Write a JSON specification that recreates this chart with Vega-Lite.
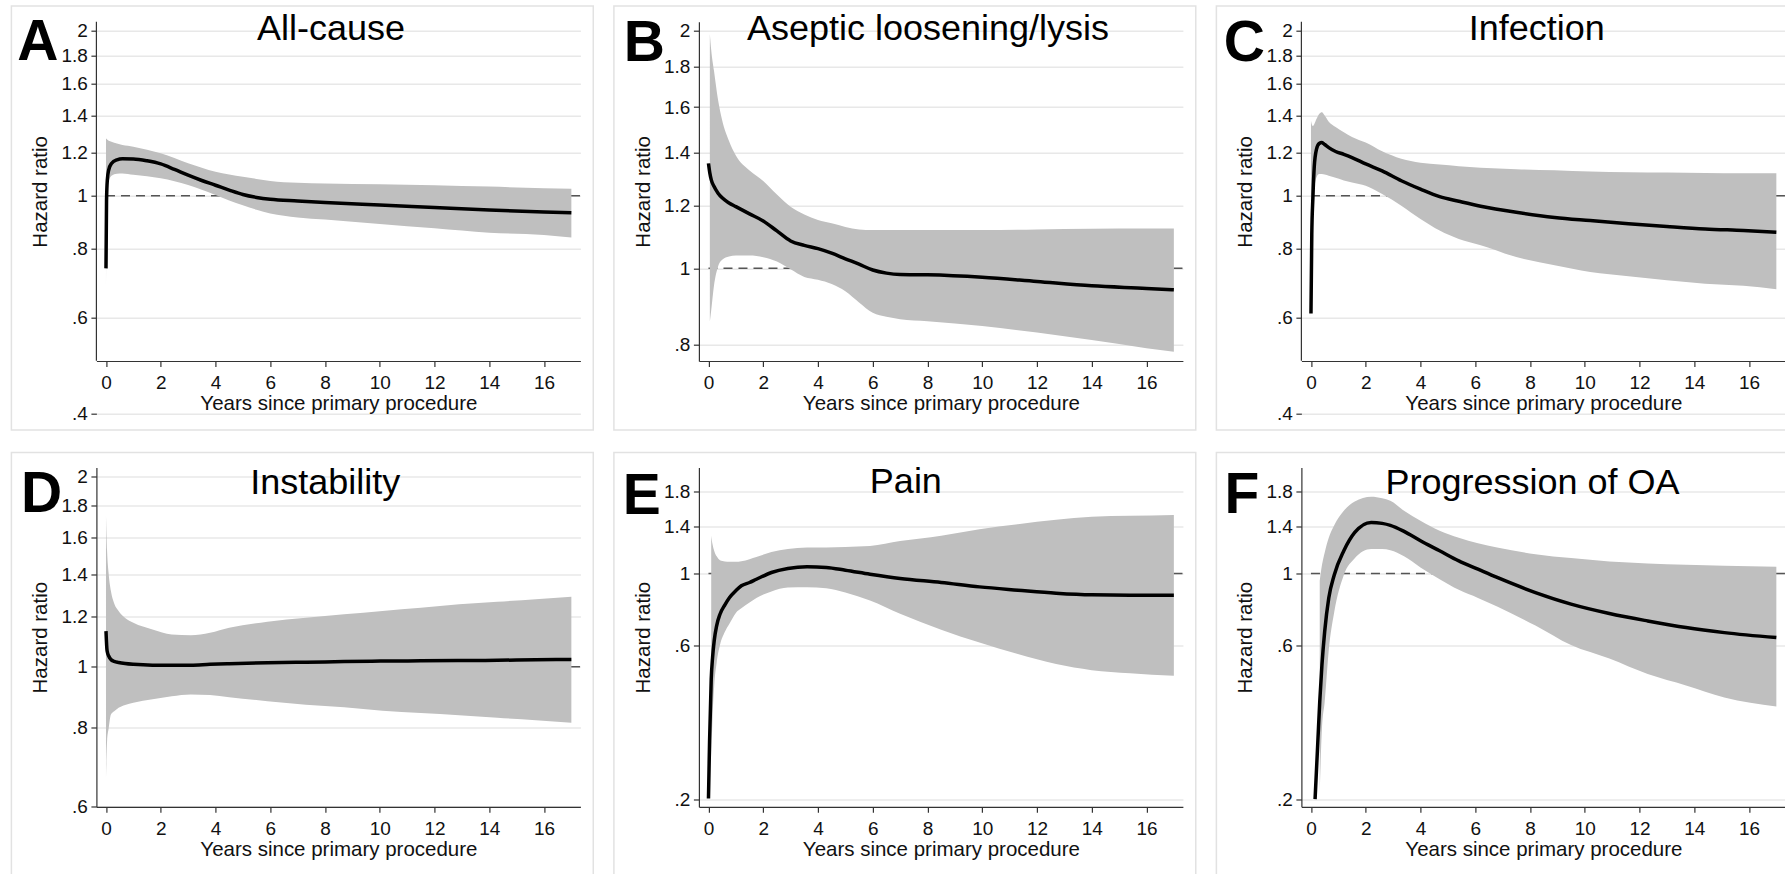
{
  "$schema": "https://vega.github.io/schema/vega-lite/v6.json",
  "padding": {"left": 10.4, "top": 4.7, "right": 0, "bottom": 0},
  "autosize": {"type": "pad"},
  "background": "white",
  "config": {
    "font": "Liberation Sans",
    "view": {"stroke": null},
    "axis": {
      "domainColor": "#333333", "domainWidth": 1.2,
      "tickColor": "#333333", "tickWidth": 1.2, "tickSize": 5.5,
      "labelColor": "#111111", "labelFontSize": 19, "labelFont": "Liberation Sans",
      "titleFont": "Liberation Sans", "titleFontSize": 20.5, "titleFontWeight": "normal", "titleColor": "#111111",
      "labelOverlap": false, "labelFlush": false, "labelBound": false
    },
    "axisX": {"grid": false, "labelPadding": 7, "titlePadding": 1},
    "axisY": {"grid": true, "gridColor": "#e8e8e8", "gridWidth": 1.5, "labelPadding": 3.5, "titlePadding": 10},
    "text": {"font": "Liberation Sans", "color": "#000000"}
  },
  "datasets": {
    "A": [
      {"t": 0, "hr": 0.737, "lo": 0.668, "hi": 1.272},
      {"t": 0.02, "hr": 0.98, "lo": 0.93, "hi": 1.27},
      {"t": 0.05, "hr": 1.07, "lo": 1.02, "hi": 1.265},
      {"t": 0.1, "hr": 1.115, "lo": 1.06, "hi": 1.26},
      {"t": 0.2, "hr": 1.145, "lo": 1.088, "hi": 1.255},
      {"t": 0.4, "hr": 1.163, "lo": 1.097, "hi": 1.245},
      {"t": 0.6, "hr": 1.168, "lo": 1.098, "hi": 1.237},
      {"t": 1.0, "hr": 1.167, "lo": 1.092, "hi": 1.229},
      {"t": 1.5, "hr": 1.158, "lo": 1.085, "hi": 1.213},
      {"t": 2.0, "hr": 1.143, "lo": 1.076, "hi": 1.195},
      {"t": 2.5, "hr": 1.117, "lo": 1.063, "hi": 1.172},
      {"t": 3.0, "hr": 1.09, "lo": 1.046, "hi": 1.146},
      {"t": 3.5, "hr": 1.066, "lo": 1.025, "hi": 1.125},
      {"t": 4.0, "hr": 1.045, "lo": 1.003, "hi": 1.106},
      {"t": 4.5, "hr": 1.024, "lo": 0.98, "hi": 1.093},
      {"t": 5.0, "hr": 1.005, "lo": 0.961, "hi": 1.083},
      {"t": 5.5, "hr": 0.993, "lo": 0.943, "hi": 1.073},
      {"t": 6.0, "hr": 0.985, "lo": 0.928, "hi": 1.064},
      {"t": 7.0, "hr": 0.978, "lo": 0.913, "hi": 1.056},
      {"t": 8.0, "hr": 0.972, "lo": 0.905, "hi": 1.053},
      {"t": 10.0, "hr": 0.962, "lo": 0.888, "hi": 1.049},
      {"t": 12.0, "hr": 0.952, "lo": 0.872, "hi": 1.045},
      {"t": 14.0, "hr": 0.942, "lo": 0.856, "hi": 1.039},
      {"t": 16.0, "hr": 0.934, "lo": 0.848, "hi": 1.032},
      {"t": 17.0, "hr": 0.931, "lo": 0.839, "hi": 1.03}
    ],
    "B": [
      {"t": 0, "hr": 1.358, "lo": null, "hi": null},
      {"t": 0.05, "hr": 1.32, "lo": 0.856, "hi": 1.98},
      {"t": 0.1, "hr": 1.295, "lo": 0.885, "hi": 1.89},
      {"t": 0.2, "hr": 1.27, "lo": 0.95, "hi": 1.78},
      {"t": 0.35, "hr": 1.245, "lo": 1.005, "hi": 1.634},
      {"t": 0.5, "hr": 1.228, "lo": 1.025, "hi": 1.54},
      {"t": 0.75, "hr": 1.21, "lo": 1.035, "hi": 1.45},
      {"t": 1.0, "hr": 1.197, "lo": 1.038, "hi": 1.39},
      {"t": 1.5, "hr": 1.172, "lo": 1.038, "hi": 1.33},
      {"t": 2.0, "hr": 1.148, "lo": 1.033, "hi": 1.29},
      {"t": 2.5, "hr": 1.115, "lo": 1.02, "hi": 1.24},
      {"t": 3.0, "hr": 1.083, "lo": 0.997, "hi": 1.197},
      {"t": 3.5, "hr": 1.069, "lo": 0.975, "hi": 1.17},
      {"t": 4.0, "hr": 1.059, "lo": 0.967, "hi": 1.151},
      {"t": 4.5, "hr": 1.045, "lo": 0.955, "hi": 1.14},
      {"t": 5.0, "hr": 1.028, "lo": 0.935, "hi": 1.128},
      {"t": 5.5, "hr": 1.012, "lo": 0.905, "hi": 1.12},
      {"t": 6.0, "hr": 0.995, "lo": 0.878, "hi": 1.118},
      {"t": 6.5, "hr": 0.986, "lo": 0.868, "hi": 1.118},
      {"t": 7.0, "hr": 0.982, "lo": 0.862, "hi": 1.118},
      {"t": 8.0, "hr": 0.981, "lo": 0.857, "hi": 1.118},
      {"t": 10.0, "hr": 0.974, "lo": 0.845, "hi": 1.118},
      {"t": 12.0, "hr": 0.962, "lo": 0.829, "hi": 1.12},
      {"t": 14.0, "hr": 0.95, "lo": 0.811, "hi": 1.122},
      {"t": 16.0, "hr": 0.943, "lo": 0.792, "hi": 1.123},
      {"t": 17.0, "hr": 0.939, "lo": 0.784, "hi": 1.123}
    ],
    "C": [
      {"t": 0, "hr": 0.61, "lo": 0.593, "hi": 1.37},
      {"t": 0.03, "hr": 0.85, "lo": 0.75, "hi": 1.35},
      {"t": 0.07, "hr": 0.99, "lo": 0.9, "hi": 1.34},
      {"t": 0.12, "hr": 1.13, "lo": 1.02, "hi": 1.35},
      {"t": 0.2, "hr": 1.215, "lo": 1.08, "hi": 1.38},
      {"t": 0.3, "hr": 1.245, "lo": 1.095, "hi": 1.41},
      {"t": 0.4, "hr": 1.25, "lo": 1.095, "hi": 1.42},
      {"t": 0.5, "hr": 1.24, "lo": 1.093, "hi": 1.4},
      {"t": 0.65, "hr": 1.224, "lo": 1.087, "hi": 1.365},
      {"t": 0.9, "hr": 1.204, "lo": 1.078, "hi": 1.335},
      {"t": 1.2, "hr": 1.19, "lo": 1.066, "hi": 1.305},
      {"t": 1.5, "hr": 1.174, "lo": 1.057, "hi": 1.28},
      {"t": 2.0, "hr": 1.143, "lo": 1.043, "hi": 1.25},
      {"t": 2.6, "hr": 1.11, "lo": 1.007, "hi": 1.205},
      {"t": 3.3, "hr": 1.065, "lo": 0.959, "hi": 1.168},
      {"t": 4.0, "hr": 1.028, "lo": 0.907, "hi": 1.149},
      {"t": 4.7, "hr": 0.996, "lo": 0.864, "hi": 1.14},
      {"t": 5.4, "hr": 0.977, "lo": 0.834, "hi": 1.132},
      {"t": 6.2, "hr": 0.957, "lo": 0.812, "hi": 1.125},
      {"t": 7.5, "hr": 0.933, "lo": 0.773, "hi": 1.118},
      {"t": 8.9, "hr": 0.913, "lo": 0.747, "hi": 1.113},
      {"t": 10.2, "hr": 0.901, "lo": 0.726, "hi": 1.107},
      {"t": 11.6, "hr": 0.889, "lo": 0.713, "hi": 1.104},
      {"t": 13.0, "hr": 0.879, "lo": 0.701, "hi": 1.102},
      {"t": 14.4, "hr": 0.87, "lo": 0.691, "hi": 1.1},
      {"t": 15.8, "hr": 0.864, "lo": 0.685, "hi": 1.099},
      {"t": 17.0, "hr": 0.858, "lo": 0.675, "hi": 1.099}
    ],
    "D": [
      {"t": 0, "hr": 1.139, "lo": 0.667, "hi": 1.734},
      {"t": 0.04, "hr": 1.06, "lo": 0.762, "hi": 1.526},
      {"t": 0.1, "hr": 1.04, "lo": 0.8, "hi": 1.4},
      {"t": 0.18, "hr": 1.027, "lo": 0.84, "hi": 1.318},
      {"t": 0.3, "hr": 1.02, "lo": 0.85, "hi": 1.26},
      {"t": 0.46, "hr": 1.016, "lo": 0.861, "hi": 1.226},
      {"t": 0.7, "hr": 1.012, "lo": 0.87, "hi": 1.195},
      {"t": 1.0, "hr": 1.009, "lo": 0.877, "hi": 1.174},
      {"t": 1.7, "hr": 1.006, "lo": 0.888, "hi": 1.146},
      {"t": 2.4, "hr": 1.006, "lo": 0.898, "hi": 1.125},
      {"t": 3.1, "hr": 1.006, "lo": 0.904, "hi": 1.122},
      {"t": 3.8, "hr": 1.009, "lo": 0.902, "hi": 1.132},
      {"t": 4.5, "hr": 1.011, "lo": 0.895, "hi": 1.153},
      {"t": 5.9, "hr": 1.015, "lo": 0.882, "hi": 1.179},
      {"t": 7.3, "hr": 1.017, "lo": 0.871, "hi": 1.196},
      {"t": 8.7, "hr": 1.019, "lo": 0.863, "hi": 1.211},
      {"t": 10.1, "hr": 1.021, "lo": 0.852, "hi": 1.226},
      {"t": 11.5, "hr": 1.022, "lo": 0.845, "hi": 1.24},
      {"t": 12.9, "hr": 1.023, "lo": 0.838, "hi": 1.256},
      {"t": 14.3, "hr": 1.024, "lo": 0.83, "hi": 1.268},
      {"t": 15.7, "hr": 1.026, "lo": 0.823, "hi": 1.279},
      {"t": 17.0, "hr": 1.027, "lo": 0.815, "hi": 1.291}
    ],
    "E": [
      {"t": 0, "hr": 0.201, "lo": null, "hi": null},
      {"t": 0.04, "hr": 0.303, "lo": null, "hi": null},
      {"t": 0.1, "hr": 0.47, "lo": 0.27, "hi": 1.31},
      {"t": 0.15, "hr": 0.55, "lo": 0.36, "hi": 1.23},
      {"t": 0.21, "hr": 0.62, "lo": 0.45, "hi": 1.175},
      {"t": 0.3, "hr": 0.69, "lo": 0.53, "hi": 1.13},
      {"t": 0.42, "hr": 0.748, "lo": 0.6, "hi": 1.1},
      {"t": 0.6, "hr": 0.8, "lo": 0.66, "hi": 1.09},
      {"t": 0.77, "hr": 0.843, "lo": 0.7, "hi": 1.087},
      {"t": 1.0, "hr": 0.885, "lo": 0.755, "hi": 1.087},
      {"t": 1.2, "hr": 0.916, "lo": 0.78, "hi": 1.092},
      {"t": 1.5, "hr": 0.938, "lo": 0.813, "hi": 1.108},
      {"t": 1.75, "hr": 0.96, "lo": 0.84, "hi": 1.125},
      {"t": 2.3, "hr": 1.007, "lo": 0.88, "hi": 1.165},
      {"t": 2.9, "hr": 1.036, "lo": 0.905, "hi": 1.19},
      {"t": 3.6, "hr": 1.049, "lo": 0.907, "hi": 1.204},
      {"t": 4.3, "hr": 1.044, "lo": 0.9, "hi": 1.204},
      {"t": 5.0, "hr": 1.024, "lo": 0.873, "hi": 1.209},
      {"t": 5.9, "hr": 0.995, "lo": 0.825, "hi": 1.217},
      {"t": 7.0, "hr": 0.965, "lo": 0.75, "hi": 1.26},
      {"t": 8.5, "hr": 0.938, "lo": 0.67, "hi": 1.31},
      {"t": 9.9, "hr": 0.909, "lo": 0.611, "hi": 1.372},
      {"t": 11.3, "hr": 0.888, "lo": 0.563, "hi": 1.422},
      {"t": 12.7, "hr": 0.869, "lo": 0.524, "hi": 1.466},
      {"t": 14.0, "hr": 0.859, "lo": 0.502, "hi": 1.498},
      {"t": 15.4, "hr": 0.857, "lo": 0.491, "hi": 1.509},
      {"t": 17.0, "hr": 0.857, "lo": 0.482, "hi": 1.519}
    ],
    "F": [
      {"t": 0.15, "hr": 0.2, "lo": null, "hi": null},
      {"t": 0.25, "hr": 0.3, "lo": null, "hi": null},
      {"t": 0.32, "hr": 0.4, "lo": 0.21, "hi": 0.95},
      {"t": 0.4, "hr": 0.52, "lo": 0.33, "hi": 1.06},
      {"t": 0.5, "hr": 0.66, "lo": 0.4, "hi": 1.16},
      {"t": 0.65, "hr": 0.84, "lo": 0.58, "hi": 1.29},
      {"t": 0.85, "hr": 0.99, "lo": 0.76, "hi": 1.41},
      {"t": 1.2, "hr": 1.176, "lo": 0.99, "hi": 1.564},
      {"t": 1.6, "hr": 1.34, "lo": 1.115, "hi": 1.67},
      {"t": 2.2, "hr": 1.44, "lo": 1.19, "hi": 1.728},
      {"t": 2.6, "hr": 1.43, "lo": 1.19, "hi": 1.71},
      {"t": 2.9, "hr": 1.41, "lo": 1.18, "hi": 1.679},
      {"t": 3.4, "hr": 1.35, "lo": 1.13, "hi": 1.564},
      {"t": 4.0, "hr": 1.263, "lo": 1.044, "hi": 1.456},
      {"t": 4.7, "hr": 1.176, "lo": 0.96, "hi": 1.356},
      {"t": 5.4, "hr": 1.094, "lo": 0.89, "hi": 1.29},
      {"t": 6.1, "hr": 1.031, "lo": 0.84, "hi": 1.24},
      {"t": 6.8, "hr": 0.972, "lo": 0.79, "hi": 1.204},
      {"t": 8.2, "hr": 0.873, "lo": 0.69, "hi": 1.148},
      {"t": 9.5, "hr": 0.804, "lo": 0.6, "hi": 1.116},
      {"t": 10.9, "hr": 0.752, "lo": 0.545, "hi": 1.089},
      {"t": 12.3, "hr": 0.713, "lo": 0.488, "hi": 1.074},
      {"t": 13.7, "hr": 0.68, "lo": 0.45, "hi": 1.064},
      {"t": 15.1, "hr": 0.656, "lo": 0.413, "hi": 1.056},
      {"t": 17.0, "hr": 0.633, "lo": 0.387, "hi": 1.049}
    ]
  },
  "columns": 3,
  "bounds": "flush",
  "spacing": {"row": 52.8, "column": 118.5},
  "concat": [
    {
      "width": 484, "height": 392.2,
      "layer": [
        {"data": {"values": [{}]}, "mark": {"type": "rect", "fill": "transparent", "stroke": "#e2e2e2", "strokeWidth": 1.5},
         "encoding": {"x": {"datum": -3.455, "type": "quantitative", "scale": {"domain": [-0.35, 17.33], "nice": false, "zero": false},
                            "axis": {"title": "Years since primary procedure", "values": [0, 2, 4, 6, 8, 10, 12, 14, 16], "offset": -52.9}}, "x2": {"datum": 17.8},
                      "y": {"datum": 0.3739, "type": "quantitative", "scale": {"type": "log", "domain": [0.4, 2.077], "nice": false},
                            "axis": {"title": "Hazard ratio", "values": [0.4, 0.6, 0.8, 1, 1.2, 1.4, 1.6, 1.8, 2], "domain": false, "titleY": 169.65,
                                     "labelExpr": "datum.value < 1 ? replace(format(datum.value, '.1f'), '0.', '.') : format(datum.value, '.1~f')"}}, "y2": {"datum": 2.218}}},
        {"data": {"values": [{}]}, "mark": {"type": "rule", "color": "#333333", "strokeWidth": 1.2},
         "encoding": {"x": {"datum": -0.35, "type": "quantitative", "scale": {"domain": [-0.35, 17.33], "nice": false, "zero": false}},
                      "y": {"datum": 0.5, "type": "quantitative", "scale": {"type": "log", "domain": [0.4, 2.077], "nice": false}}, "y2": {"datum": 2.077}}},
        {"data": {"values": [{}]}, "mark": {"type": "rule", "color": "#555555", "strokeWidth": 1.5, "strokeDash": [9, 6]},
         "encoding": {"x": {"datum": 0, "type": "quantitative", "scale": {"domain": [-0.35, 17.33], "nice": false, "zero": false}}, "x2": {"datum": 17.33},
                      "y": {"datum": 1, "type": "quantitative", "scale": {"type": "log", "domain": [0.4, 2.077], "nice": false}}}},
        {"data": {"name": "A"}, "transform": [{"filter": "datum.lo != null"}],
         "mark": {"type": "area", "color": "#bfbfbf", "interpolate": "monotone"},
         "encoding": {"x": {"field": "t", "type": "quantitative", "scale": {"domain": [-0.35, 17.33], "nice": false, "zero": false}},
                      "y": {"field": "lo", "type": "quantitative", "scale": {"type": "log", "domain": [0.4, 2.077], "nice": false}},
                      "y2": {"field": "hi"}}},
        {"data": {"name": "A"}, "transform": [{"filter": "datum.hr != null"}],
         "mark": {"type": "line", "color": "#000000", "strokeWidth": 3.5, "interpolate": "monotone"},
         "encoding": {"x": {"field": "t", "type": "quantitative", "scale": {"domain": [-0.35, 17.33], "nice": false, "zero": false}},
                      "y": {"field": "hr", "type": "quantitative", "scale": {"type": "log", "domain": [0.4, 2.077], "nice": false}}}},
        {"data": {"values": [{}]}, "mark": {"type": "text", "text": "A", "fontSize": 57, "fontWeight": "bold", "align": "left", "baseline": "alphabetic"},
         "encoding": {"x": {"datum": -3.239, "type": "quantitative", "scale": {"domain": [-0.35, 17.33], "nice": false, "zero": false}},
                      "y": {"datum": 1.768, "type": "quantitative", "scale": {"type": "log", "domain": [0.4, 2.077], "nice": false}}}},
        {"data": {"values": [{}]}, "mark": {"type": "text", "text": "All-cause", "fontSize": 36, "align": "center", "baseline": "alphabetic"},
         "encoding": {"x": {"datum": 8.22, "type": "quantitative", "scale": {"domain": [-0.35, 17.33], "nice": false, "zero": false}},
                      "y": {"datum": 1.923, "type": "quantitative", "scale": {"type": "log", "domain": [0.4, 2.077], "nice": false}}}}
      ]
    },
    {
      "width": 484, "height": 339.3,
      "layer": [
        {"data": {"values": [{}]}, "mark": {"type": "rect", "fill": "transparent", "stroke": "#e2e2e2", "strokeWidth": 1.5},
         "encoding": {"x": {"datum": -3.455, "type": "quantitative", "scale": {"domain": [-0.35, 17.33], "nice": false, "zero": false},
                            "axis": {"title": "Years since primary procedure", "values": [0, 2, 4, 6, 8, 10, 12, 14, 16]}}, "x2": {"datum": 17.8},
                      "y": {"datum": 0.6239, "type": "quantitative", "scale": {"type": "log", "domain": [0.763, 2.053], "nice": false},
                            "axis": {"title": "Hazard ratio", "values": [0.8, 1, 1.2, 1.4, 1.6, 1.8, 2],
                                     "labelExpr": "datum.value < 1 ? replace(format(datum.value, '.1f'), '0.', '.') : format(datum.value, '.1~f')"}}, "y2": {"datum": 2.1495}}},
        {"data": {"values": [{}]}, "mark": {"type": "rule", "color": "#555555", "strokeWidth": 1.5, "strokeDash": [9, 6]},
         "encoding": {"x": {"datum": 0, "type": "quantitative", "scale": {"domain": [-0.35, 17.33], "nice": false, "zero": false}}, "x2": {"datum": 17.33},
                      "y": {"datum": 1, "type": "quantitative", "scale": {"type": "log", "domain": [0.763, 2.053], "nice": false}}}},
        {"data": {"name": "B"}, "transform": [{"filter": "datum.lo != null"}],
         "mark": {"type": "area", "color": "#bfbfbf", "interpolate": "monotone"},
         "encoding": {"x": {"field": "t", "type": "quantitative", "scale": {"domain": [-0.35, 17.33], "nice": false, "zero": false}},
                      "y": {"field": "lo", "type": "quantitative", "scale": {"type": "log", "domain": [0.763, 2.053], "nice": false}},
                      "y2": {"field": "hi"}}},
        {"data": {"name": "B"}, "transform": [{"filter": "datum.hr != null"}],
         "mark": {"type": "line", "color": "#000000", "strokeWidth": 3.5, "interpolate": "monotone"},
         "encoding": {"x": {"field": "t", "type": "quantitative", "scale": {"domain": [-0.35, 17.33], "nice": false, "zero": false}},
                      "y": {"field": "hr", "type": "quantitative", "scale": {"type": "log", "domain": [0.763, 2.053], "nice": false}}}},
        {"data": {"values": [{}]}, "mark": {"type": "text", "text": "B", "fontSize": 57, "fontWeight": "bold", "align": "left", "baseline": "alphabetic"},
         "encoding": {"x": {"datum": -3.097, "type": "quantitative", "scale": {"domain": [-0.35, 17.33], "nice": false, "zero": false}},
                      "y": {"datum": 1.831, "type": "quantitative", "scale": {"type": "log", "domain": [0.763, 2.053], "nice": false}}}},
        {"data": {"values": [{}]}, "mark": {"type": "text", "text": "Aseptic loosening/lysis", "fontSize": 36, "align": "center", "baseline": "alphabetic"},
         "encoding": {"x": {"datum": 8.019, "type": "quantitative", "scale": {"domain": [-0.35, 17.33], "nice": false, "zero": false}},
                      "y": {"datum": 1.946, "type": "quantitative", "scale": {"type": "log", "domain": [0.763, 2.053], "nice": false}}}}
      ]
    },
    {
      "width": 484, "height": 392.2,
      "layer": [
        {"data": {"values": [{}]}, "mark": {"type": "rect", "fill": "transparent", "stroke": "#e2e2e2", "strokeWidth": 1.5},
         "encoding": {"x": {"datum": -3.455, "type": "quantitative", "scale": {"domain": [-0.35, 17.33], "nice": false, "zero": false},
                            "axis": {"title": "Years since primary procedure", "values": [0, 2, 4, 6, 8, 10, 12, 14, 16], "offset": -52.9}}, "x2": {"datum": 17.8},
                      "y": {"datum": 0.3739, "type": "quantitative", "scale": {"type": "log", "domain": [0.4, 2.077], "nice": false},
                            "axis": {"title": "Hazard ratio", "values": [0.4, 0.6, 0.8, 1, 1.2, 1.4, 1.6, 1.8, 2], "domain": false, "titleY": 169.65,
                                     "labelExpr": "datum.value < 1 ? replace(format(datum.value, '.1f'), '0.', '.') : format(datum.value, '.1~f')"}}, "y2": {"datum": 2.218}}},
        {"data": {"values": [{}]}, "mark": {"type": "rule", "color": "#333333", "strokeWidth": 1.2},
         "encoding": {"x": {"datum": -0.35, "type": "quantitative", "scale": {"domain": [-0.35, 17.33], "nice": false, "zero": false}},
                      "y": {"datum": 0.5, "type": "quantitative", "scale": {"type": "log", "domain": [0.4, 2.077], "nice": false}}, "y2": {"datum": 2.077}}},
        {"data": {"values": [{}]}, "mark": {"type": "rule", "color": "#555555", "strokeWidth": 1.5, "strokeDash": [9, 6]},
         "encoding": {"x": {"datum": 0, "type": "quantitative", "scale": {"domain": [-0.35, 17.33], "nice": false, "zero": false}}, "x2": {"datum": 17.33},
                      "y": {"datum": 1, "type": "quantitative", "scale": {"type": "log", "domain": [0.4, 2.077], "nice": false}}}},
        {"data": {"name": "C"}, "transform": [{"filter": "datum.lo != null"}],
         "mark": {"type": "area", "color": "#bfbfbf", "interpolate": "monotone"},
         "encoding": {"x": {"field": "t", "type": "quantitative", "scale": {"domain": [-0.35, 17.33], "nice": false, "zero": false}},
                      "y": {"field": "lo", "type": "quantitative", "scale": {"type": "log", "domain": [0.4, 2.077], "nice": false}},
                      "y2": {"field": "hi"}}},
        {"data": {"name": "C"}, "transform": [{"filter": "datum.hr != null"}],
         "mark": {"type": "line", "color": "#000000", "strokeWidth": 3.5, "interpolate": "monotone"},
         "encoding": {"x": {"field": "t", "type": "quantitative", "scale": {"domain": [-0.35, 17.33], "nice": false, "zero": false}},
                      "y": {"field": "hr", "type": "quantitative", "scale": {"type": "log", "domain": [0.4, 2.077], "nice": false}}}},
        {"data": {"values": [{}]}, "mark": {"type": "text", "text": "C", "fontSize": 57, "fontWeight": "bold", "align": "left", "baseline": "alphabetic"},
         "encoding": {"x": {"datum": -3.188, "type": "quantitative", "scale": {"domain": [-0.35, 17.33], "nice": false, "zero": false}},
                      "y": {"datum": 1.761, "type": "quantitative", "scale": {"type": "log", "domain": [0.4, 2.077], "nice": false}}}},
        {"data": {"values": [{}]}, "mark": {"type": "text", "text": "Infection", "fontSize": 36, "align": "center", "baseline": "alphabetic"},
         "encoding": {"x": {"datum": 8.249, "type": "quantitative", "scale": {"domain": [-0.35, 17.33], "nice": false, "zero": false}},
                      "y": {"datum": 1.923, "type": "quantitative", "scale": {"type": "log", "domain": [0.4, 2.077], "nice": false}}}}
      ]
    },
    {
      "width": 484, "height": 339.3,
      "layer": [
        {"data": {"values": [{}]}, "mark": {"type": "rect", "fill": "transparent", "stroke": "#e2e2e2", "strokeWidth": 1.5},
         "encoding": {"x": {"datum": -3.455, "type": "quantitative", "scale": {"domain": [-0.35, 17.33], "nice": false, "zero": false},
                            "axis": {"title": "Years since primary procedure", "values": [0, 2, 4, 6, 8, 10, 12, 14, 16]}}, "x2": {"datum": 17.8},
                      "y": {"datum": 0.4653, "type": "quantitative", "scale": {"type": "log", "domain": [0.6, 2.069], "nice": false},
                            "axis": {"title": "Hazard ratio", "values": [0.6, 0.8, 1, 1.2, 1.4, 1.6, 1.8, 2],
                                     "labelExpr": "datum.value < 1 ? replace(format(datum.value, '.1f'), '0.', '.') : format(datum.value, '.1~f')"}}, "y2": {"datum": 2.185}}},
        {"data": {"values": [{}]}, "mark": {"type": "rule", "color": "#555555", "strokeWidth": 1.5, "strokeDash": [9, 6]},
         "encoding": {"x": {"datum": 0, "type": "quantitative", "scale": {"domain": [-0.35, 17.33], "nice": false, "zero": false}}, "x2": {"datum": 17.33},
                      "y": {"datum": 1, "type": "quantitative", "scale": {"type": "log", "domain": [0.6, 2.069], "nice": false}}}},
        {"data": {"name": "D"}, "transform": [{"filter": "datum.lo != null"}],
         "mark": {"type": "area", "color": "#bfbfbf", "interpolate": "monotone"},
         "encoding": {"x": {"field": "t", "type": "quantitative", "scale": {"domain": [-0.35, 17.33], "nice": false, "zero": false}},
                      "y": {"field": "lo", "type": "quantitative", "scale": {"type": "log", "domain": [0.6, 2.069], "nice": false}},
                      "y2": {"field": "hi"}}},
        {"data": {"name": "D"}, "transform": [{"filter": "datum.hr != null"}],
         "mark": {"type": "line", "color": "#000000", "strokeWidth": 3.5, "interpolate": "monotone"},
         "encoding": {"x": {"field": "t", "type": "quantitative", "scale": {"domain": [-0.35, 17.33], "nice": false, "zero": false}},
                      "y": {"field": "hr", "type": "quantitative", "scale": {"type": "log", "domain": [0.6, 2.069], "nice": false}}}},
        {"data": {"values": [{}]}, "mark": {"type": "text", "text": "D", "fontSize": 57, "fontWeight": "bold", "align": "left", "baseline": "alphabetic"},
         "encoding": {"x": {"datum": -3.104, "type": "quantitative", "scale": {"domain": [-0.35, 17.33], "nice": false, "zero": false}},
                      "y": {"datum": 1.756, "type": "quantitative", "scale": {"type": "log", "domain": [0.6, 2.069], "nice": false}}}},
        {"data": {"values": [{}]}, "mark": {"type": "text", "text": "Instability", "fontSize": 36, "align": "center", "baseline": "alphabetic"},
         "encoding": {"x": {"datum": 8.011, "type": "quantitative", "scale": {"domain": [-0.35, 17.33], "nice": false, "zero": false}},
                      "y": {"datum": 1.878, "type": "quantitative", "scale": {"type": "log", "domain": [0.6, 2.069], "nice": false}}}}
      ]
    },
    {
      "width": 484, "height": 339.3,
      "layer": [
        {"data": {"values": [{}]}, "mark": {"type": "rect", "fill": "transparent", "stroke": "#e2e2e2", "strokeWidth": 1.5},
         "encoding": {"x": {"datum": -3.455, "type": "quantitative", "scale": {"domain": [-0.35, 17.33], "nice": false, "zero": false},
                            "axis": {"title": "Years since primary procedure", "values": [0, 2, 4, 6, 8, 10, 12, 14, 16]}}, "x2": {"datum": 17.8},
                      "y": {"datum": 0.1152, "type": "quantitative", "scale": {"type": "log", "domain": [0.1894, 2.13], "nice": false},
                            "axis": {"title": "Hazard ratio", "values": [0.2, 0.6, 1, 1.4, 1.8],
                                     "labelExpr": "datum.value < 1 ? replace(format(datum.value, '.1f'), '0.', '.') : format(datum.value, '.1~f')"}}, "y2": {"datum": 2.37}}},
        {"data": {"values": [{}]}, "mark": {"type": "rule", "color": "#555555", "strokeWidth": 1.5, "strokeDash": [9, 6]},
         "encoding": {"x": {"datum": 0, "type": "quantitative", "scale": {"domain": [-0.35, 17.33], "nice": false, "zero": false}}, "x2": {"datum": 17.33},
                      "y": {"datum": 1, "type": "quantitative", "scale": {"type": "log", "domain": [0.1894, 2.13], "nice": false}}}},
        {"data": {"name": "E"}, "transform": [{"filter": "datum.lo != null"}],
         "mark": {"type": "area", "color": "#bfbfbf", "interpolate": "monotone"},
         "encoding": {"x": {"field": "t", "type": "quantitative", "scale": {"domain": [-0.35, 17.33], "nice": false, "zero": false}},
                      "y": {"field": "lo", "type": "quantitative", "scale": {"type": "log", "domain": [0.1894, 2.13], "nice": false}},
                      "y2": {"field": "hi"}}},
        {"data": {"name": "E"}, "transform": [{"filter": "datum.hr != null"}],
         "mark": {"type": "line", "color": "#000000", "strokeWidth": 3.5, "interpolate": "monotone"},
         "encoding": {"x": {"field": "t", "type": "quantitative", "scale": {"domain": [-0.35, 17.33], "nice": false, "zero": false}},
                      "y": {"field": "hr", "type": "quantitative", "scale": {"type": "log", "domain": [0.1894, 2.13], "nice": false}}}},
        {"data": {"values": [{}]}, "mark": {"type": "text", "text": "E", "fontSize": 57, "fontWeight": "bold", "align": "left", "baseline": "alphabetic"},
         "encoding": {"x": {"datum": -3.133, "type": "quantitative", "scale": {"domain": [-0.35, 17.33], "nice": false, "zero": false}},
                      "y": {"datum": 1.528, "type": "quantitative", "scale": {"type": "log", "domain": [0.1894, 2.13], "nice": false}}}},
        {"data": {"values": [{}]}, "mark": {"type": "text", "text": "Pain", "fontSize": 36, "align": "center", "baseline": "alphabetic"},
         "encoding": {"x": {"datum": 7.211, "type": "quantitative", "scale": {"domain": [-0.35, 17.33], "nice": false, "zero": false}},
                      "y": {"datum": 1.782, "type": "quantitative", "scale": {"type": "log", "domain": [0.1894, 2.13], "nice": false}}}}
      ]
    },
    {
      "width": 484, "height": 339.3,
      "layer": [
        {"data": {"values": [{}]}, "mark": {"type": "rect", "fill": "transparent", "stroke": "#e2e2e2", "strokeWidth": 1.5},
         "encoding": {"x": {"datum": -3.455, "type": "quantitative", "scale": {"domain": [-0.35, 17.33], "nice": false, "zero": false},
                            "axis": {"title": "Years since primary procedure", "values": [0, 2, 4, 6, 8, 10, 12, 14, 16]}}, "x2": {"datum": 17.8},
                      "y": {"datum": 0.1152, "type": "quantitative", "scale": {"type": "log", "domain": [0.1894, 2.13], "nice": false},
                            "axis": {"title": "Hazard ratio", "values": [0.2, 0.6, 1, 1.4, 1.8],
                                     "labelExpr": "datum.value < 1 ? replace(format(datum.value, '.1f'), '0.', '.') : format(datum.value, '.1~f')"}}, "y2": {"datum": 2.37}}},
        {"data": {"values": [{}]}, "mark": {"type": "rule", "color": "#555555", "strokeWidth": 1.5, "strokeDash": [9, 6]},
         "encoding": {"x": {"datum": 0, "type": "quantitative", "scale": {"domain": [-0.35, 17.33], "nice": false, "zero": false}}, "x2": {"datum": 17.33},
                      "y": {"datum": 1, "type": "quantitative", "scale": {"type": "log", "domain": [0.1894, 2.13], "nice": false}}}},
        {"data": {"name": "F"}, "transform": [{"filter": "datum.lo != null"}],
         "mark": {"type": "area", "color": "#bfbfbf", "interpolate": "monotone"},
         "encoding": {"x": {"field": "t", "type": "quantitative", "scale": {"domain": [-0.35, 17.33], "nice": false, "zero": false}},
                      "y": {"field": "lo", "type": "quantitative", "scale": {"type": "log", "domain": [0.1894, 2.13], "nice": false}},
                      "y2": {"field": "hi"}}},
        {"data": {"name": "F"}, "transform": [{"filter": "datum.hr != null"}],
         "mark": {"type": "line", "color": "#000000", "strokeWidth": 3.5, "interpolate": "monotone"},
         "encoding": {"x": {"field": "t", "type": "quantitative", "scale": {"domain": [-0.35, 17.33], "nice": false, "zero": false}},
                      "y": {"field": "hr", "type": "quantitative", "scale": {"type": "log", "domain": [0.1894, 2.13], "nice": false}}}},
        {"data": {"values": [{}]}, "mark": {"type": "text", "text": "F", "fontSize": 57, "fontWeight": "bold", "align": "left", "baseline": "alphabetic"},
         "encoding": {"x": {"datum": -3.163, "type": "quantitative", "scale": {"domain": [-0.35, 17.33], "nice": false, "zero": false}},
                      "y": {"datum": 1.545, "type": "quantitative", "scale": {"type": "log", "domain": [0.1894, 2.13], "nice": false}}}},
        {"data": {"values": [{}]}, "mark": {"type": "text", "text": "Progression of OA", "fontSize": 36, "align": "center", "baseline": "alphabetic"},
         "encoding": {"x": {"datum": 8.092, "type": "quantitative", "scale": {"domain": [-0.35, 17.33], "nice": false, "zero": false}},
                      "y": {"datum": 1.762, "type": "quantitative", "scale": {"type": "log", "domain": [0.1894, 2.13], "nice": false}}}}
      ]
    }
  ]
}
